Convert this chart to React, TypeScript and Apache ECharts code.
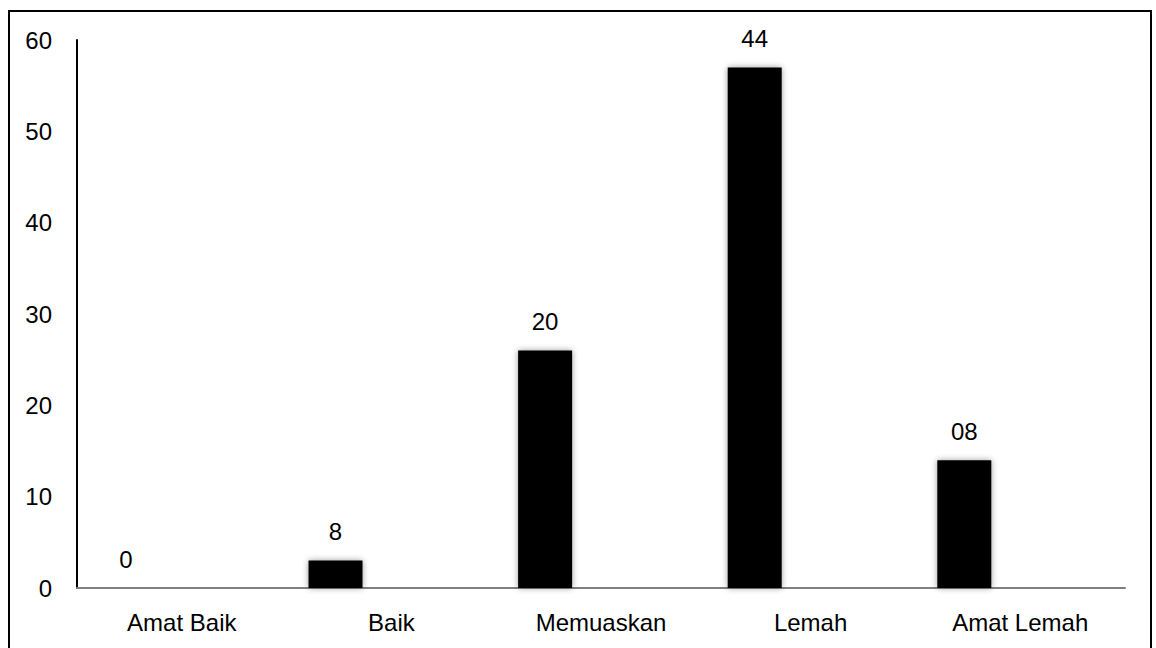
import React, { useEffect, useRef } from "react";
import * as echarts from "echarts";

const categories = ["Amat Baik", "Baik", "Memuaskan", "Lemah", "Amat Lemah"];
const barValues = [0, 3, 26, 57, 14];
const barLabels = ["0", "8", "20", "44", "08"];
const emptySeries = [null, null, null, null, null];
const yTicks = { min: 0, max: 60, interval: 10 };

const FONT = "'Liberation Sans', Arial, sans-serif";

export default function App() {
  const ref = useRef<HTMLDivElement>(null);
  useEffect(() => {
    document.body.style.margin = "0";
    document.body.style.overflow = "hidden";
    const chart = echarts.init(ref.current!, null, { renderer: "svg" });
    chart.setOption({
      animation: false,
      textStyle: { fontFamily: FONT, color: "#000" },
      grid: { left: 67, top: 28, width: 1048, height: 548, containLabel: false },
      xAxis: {
        type: "category",
        data: categories,
        axisTick: { show: false },
        axisLine: { lineStyle: { color: "#808080", width: 2 } },
        axisLabel: { fontSize: 24, color: "#000", margin: 22, fontFamily: FONT },
      },
      yAxis: {
        type: "value",
        min: yTicks.min,
        max: yTicks.max,
        interval: yTicks.interval,
        splitLine: { show: false },
        axisTick: { show: false },
        axisLine: { show: true, lineStyle: { color: "#000", width: 2 } },
        axisLabel: { fontSize: 24, color: "#000", margin: 25, fontFamily: FONT },
      },
      series: [
        {
          type: "bar",
          data: barValues,
          barWidth: 54,
          barGap: "107%",
          itemStyle: {
            color: "#000",
            shadowBlur: 6,
            shadowColor: "rgba(0,0,0,0.4)",
          },
          label: {
            show: true,
            position: "top",
            distance: 17,
            fontSize: 24,
            color: "#000",
            fontFamily: FONT,
            formatter: (p: any) => barLabels[p.dataIndex],
          },
        },
        {
          type: "bar",
          data: emptySeries,
          barWidth: 54,
          itemStyle: { color: "#000" },
        },
      ],
    });
    return () => chart.dispose();
  }, []);
  return (
    <div
      style={{
        position: "absolute",
        left: 8,
        top: 10,
        width: 1144,
        height: 660,
        border: "2px solid #000",
        boxSizing: "border-box",
        background: "#fff",
      }}
    >
      <div ref={ref} style={{ width: 1140, height: 656 }} />
    </div>
  );
}
